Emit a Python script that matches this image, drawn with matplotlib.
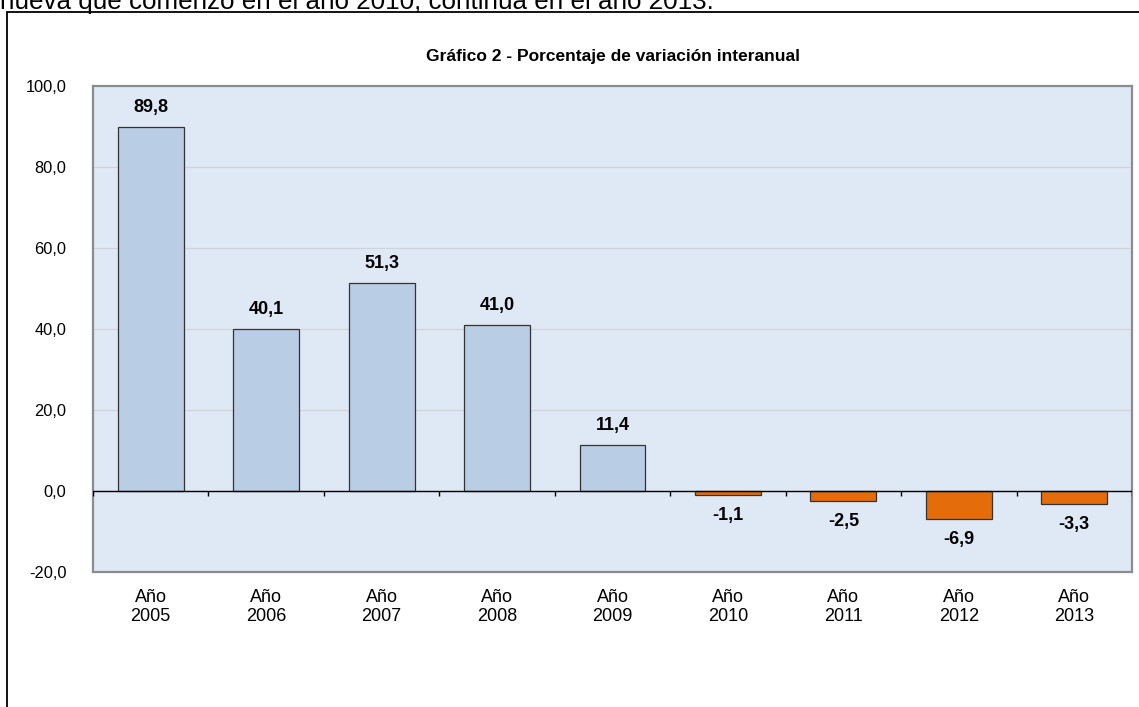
import numpy as np
import matplotlib
matplotlib.use("Agg")
import matplotlib.pyplot as plt

years = ["2005", "2006", "2007", "2008", "2009", "2010", "2011", "2012", "2013"]
values = [89.8, 40.1, 51.3, 41.0, 11.4, -1.1, -2.5, -6.9, -3.3]
yticks = [-20, 0, 20, 40, 60, 80, 100]
title = "Gráfico 2 - Porcentaje de variación interanual"
intro = "nueva que comenzó en el año 2010, continúa en el año 2013."

plt.rcParams["font.family"] = ["Liberation Sans", "DejaVu Sans"]

W, H = 1139, 707
fig = plt.figure(figsize=(W / 100, H / 100), dpi=100)

# cut-off paragraph text above the chart frame
fig.text(0.0, 1 - 9 / H, intro, fontsize=18.7, ha="left", va="baseline", color="black")

# outer chart frame
frame = plt.Rectangle((7 / W, -0.1), 1.2, (H - 12) / H + 0.1, transform=fig.transFigure,
                      fill=False, edgecolor="black", linewidth=1.3)
fig.add_artist(frame)

ax = fig.add_axes([93 / W, (H - 572) / H, (1132 - 93) / W, (572 - 86) / H])
ax.set_facecolor("#dfe8f5")
for s in ax.spines.values():
    s.set_color("#8c8c8c")
    s.set_linewidth(1.6)

x = np.arange(len(years))
colors = ["#b9cde5" if v >= 0 else "#e46c0a" for v in values]
ax.bar(x, values, width=0.57, color=colors, edgecolor="#333333", linewidth=0.9, zorder=3)

ax.set_xlim(-0.5, len(years) - 0.5)
ax.set_ylim(-20, 100)
ax.set_yticks(yticks)
ax.set_yticklabels([f"{t:.1f}".replace(".", ",") for t in yticks], fontsize=11.8)
ax.tick_params(axis="y", length=0, pad=19)
ax.yaxis.grid(True, color="#d0d4d9", linewidth=0.8, zorder=0)

ax.set_xticks(x)
ax.set_xticklabels(["Año\n" + y for y in years], fontsize=13, linespacing=1.15)
ax.tick_params(axis="x", length=0, pad=12)

# zero line with category ticks
ax.axhline(0, color="black", linewidth=1.0, zorder=4)
ax.vlines(np.arange(len(years) + 1) - 0.5, -1.3, 0, color="black", linewidth=1.0, zorder=4)

for xi, v in zip(x, values):
    lbl = f"{v:.1f}".replace(".", ",")
    off = 14 if v >= 0 else -14.5
    ax.annotate(lbl, (xi, v), xytext=(0, off), textcoords="offset points",
                ha="center", va="center", fontsize=13, fontweight="bold", zorder=5)

fig.text((93 + 1132) / 2 / W, 1 - 56 / H, title, ha="center", va="center",
         fontsize=12.5, fontweight="bold")

fig.savefig("out.png", dpi=100)
